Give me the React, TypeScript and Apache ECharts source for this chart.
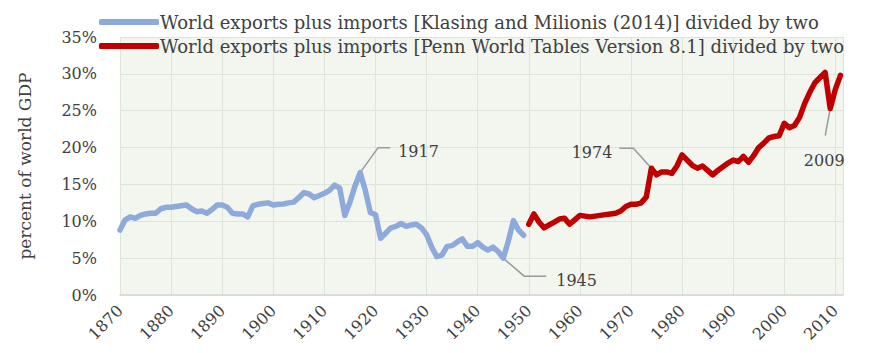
import React, { useEffect, useRef } from "react";
import * as echarts from "echarts";

const klasingStartYear = 1870;
const klasingValues = [
  8.8, 10.2, 10.6, 10.4, 10.8, 11.0, 11.1, 11.1, 11.7, 11.9,
  11.9, 12.0, 12.1, 12.2, 11.7, 11.3, 11.4, 11.1, 11.6, 12.2,
  12.2, 11.9, 11.1, 11.0, 11.0, 10.6, 12.1, 12.3, 12.4, 12.5,
  12.2, 12.3, 12.35, 12.5, 12.6, 13.2, 13.9, 13.7, 13.2, 13.5,
  13.8, 14.2, 14.9, 14.5, 10.8, 12.6, 14.8, 16.6, 14.2, 11.2,
  10.9, 7.7, 8.4, 9.1, 9.3, 9.7, 9.3, 9.5, 9.6, 9.1,
  8.2, 6.5, 5.2, 5.4, 6.6, 6.7, 7.2, 7.6, 6.6, 6.6,
  7.1, 6.5, 6.1, 6.5, 5.9, 5.0, 7.3, 10.1, 8.8, 8.1,
];

const pennStartYear = 1950;
const pennValues = [
  9.6, 11.0, 9.9, 9.1, 9.5, 9.9, 10.3, 10.4, 9.6, 10.2,
  10.8, 10.7, 10.6, 10.7, 10.8, 10.9, 11.0, 11.1, 11.4, 12.0,
  12.3, 12.3, 12.5, 13.3, 17.2, 16.3, 16.7, 16.7, 16.5, 17.5,
  19.0, 18.3, 17.6, 17.2, 17.5, 16.9, 16.3, 16.9, 17.4, 17.9,
  18.3, 18.1, 18.8, 18.0, 18.9, 20.0, 20.6, 21.3, 21.5, 21.6,
  23.3, 22.7, 23.0, 24.1, 26.0, 27.5, 28.8, 29.5, 30.2, 25.3,
  27.9, 29.8,
];

const seriesNames = [
  "World exports plus imports [Klasing and Milionis (2014)] divided by two",
  "World exports plus imports [Penn World Tables Version 8.1] divided by two",
];

const yAxisTitle = "percent of world GDP";

const annotatedYears = [1917, 1945, 1974, 2009];

const FONT = "DejaVu Serif";
const TEXT = "#404040";

function valueFor(year: number): number {
  if (year < pennStartYear) return klasingValues[year - klasingStartYear];
  return pennValues[year - pennStartYear];
}

export default function App() {
  const ref = useRef<HTMLDivElement>(null);

  useEffect(() => {
    if (!ref.current) return;
    const chart = echarts.init(ref.current, null, { renderer: "svg" });
    const option: any = {
      animation: false,
      backgroundColor: "#ffffff",
      textStyle: { fontFamily: FONT },
      legend: {
        orient: "vertical",
        left: 86,
        top: 0,
        itemGap: 6,
        itemWidth: 60,
        itemHeight: 6,
        icon: "roundRect",
        textStyle: { fontFamily: FONT, fontSize: 18, color: TEXT, padding: [0, 0, 0, -4] },
        data: seriesNames,
      },
      grid: {
        left: 102,
        right: 26,
        top: 29,
        bottom: 50,
        show: true,
        backgroundColor: "#f2f6ef",
        borderWidth: 0,
      },
      xAxis: {
        type: "value",
        min: 1870,
        max: 2011.5,
        interval: 10,
        axisLine: { show: true, lineStyle: { color: "#d4d9d0", width: 1.5 } },
        axisTick: { show: false },
        splitLine: { show: true, lineStyle: { color: "#dde4d8", width: 1 } },
        axisLabel: {
          rotate: 45,
          margin: 13,
          fontFamily: FONT,
          fontSize: 16,
          color: TEXT,
          showMaxLabel: false,
          formatter: (v: number) => (v % 10 === 0 ? String(v) : ""),
        },
      },
      yAxis: {
        type: "value",
        min: 0,
        max: 35,
        interval: 5,
        name: yAxisTitle,
        nameLocation: "middle",
        nameGap: 87,
        nameRotate: 90,
        nameTextStyle: { fontFamily: FONT, fontSize: 17, color: TEXT },
        axisLine: { show: false },
        axisTick: { show: false },
        splitLine: { show: true, lineStyle: { color: "#dde4d8", width: 1 } },
        axisLabel: {
          margin: 23,
          fontFamily: FONT,
          fontSize: 16,
          color: TEXT,
          formatter: "{value}%",
        },
      },
      series: [
        {
          name: seriesNames[0],
          type: "line",
          symbol: "none",
          color: "#8eaadb",
          lineStyle: { width: 5.5, color: "#8eaadb", cap: "round", join: "round" },
          data: klasingValues.map((v, i) => [klasingStartYear + i, v]),
        },
        {
          name: seriesNames[1],
          type: "line",
          symbol: "none",
          color: "#c00000",
          lineStyle: { width: 5.5, color: "#c00000", cap: "round", join: "round" },
          data: pennValues.map((v, i) => [pennStartYear + i, v]),
        },
      ],
    };
    chart.setOption(option);

    const leader = { stroke: "#9a9a9a", lineWidth: 1.5, fill: "none" };
    const txt = (x: number, y: number, t: string, align: string) => ({
      type: "text",
      x,
      y,
      style: {
        text: t,
        fontFamily: FONT,
        fontSize: 16,
        fill: TEXT,
        align,
        verticalAlign: "middle",
      },
    });
    const graphics: any[] = [];
    annotatedYears.forEach((yr) => {
      const seriesIndex = yr < pennStartYear ? 0 : 1;
      const p = chart.convertToPixel({ seriesIndex }, [yr, valueFor(yr)]) as number[];
      const [px, py] = p;
      if (yr === 1917) {
        graphics.push({ type: "polyline", shape: { points: [[px, py], [px + 18, py - 25], [px + 30, py - 25]] }, style: leader });
        graphics.push(txt(px + 38, py - 21, String(yr), "left"));
      } else if (yr === 1945) {
        graphics.push({ type: "polyline", shape: { points: [[px, py], [px + 21, py + 18], [px + 43, py + 18]] }, style: leader });
        graphics.push(txt(px + 53, py + 22, String(yr), "left"));
      } else if (yr === 1974) {
        graphics.push({ type: "polyline", shape: { points: [[px, py], [px - 18, py - 20], [px - 32, py - 20]] }, style: leader });
        graphics.push(txt(px - 39, py - 16, String(yr), "right"));
      } else if (yr === 2009) {
        graphics.push({ type: "polyline", shape: { points: [[px, py], [px - 5, py + 27]] }, style: leader });
        graphics.push(txt(px - 6, py + 52, String(yr), "center"));
      }
    });
    chart.setOption({ graphic: graphics });

    return () => chart.dispose();
  }, []);

  return <div ref={ref} style={{ width: 861, height: 337 }} />;
}
